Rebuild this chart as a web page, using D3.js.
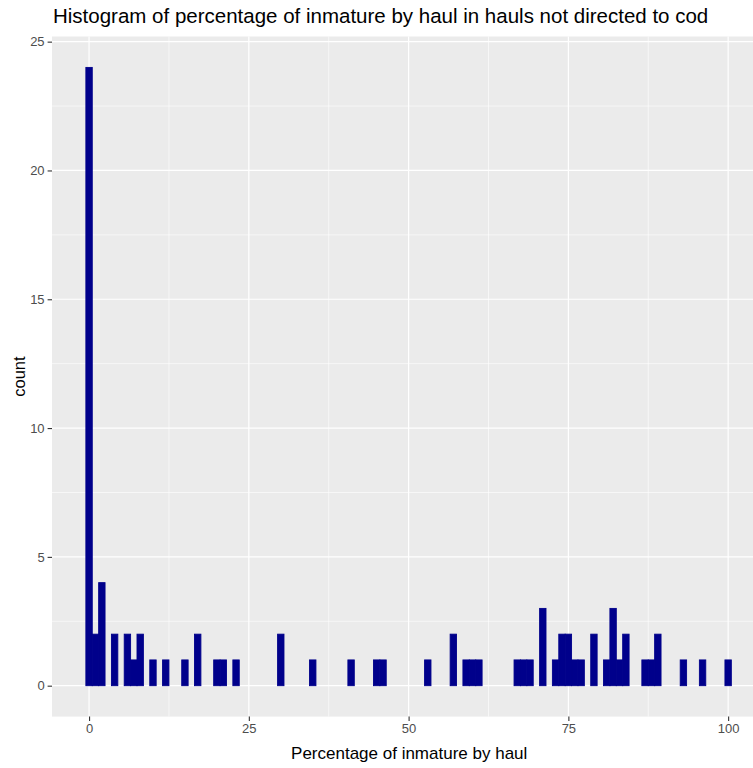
<!DOCTYPE html>
<html>
<head>
<meta charset="utf-8">
<script src="https://cdn.jsdelivr.net/npm/d3@7/dist/d3.min.js"></script>
<style>
  html, body { margin: 0; padding: 0; background: #ffffff; }
  svg { display: block; font-family: "Liberation Sans", Arial, sans-serif; }
</style>
</head>
<body>
<svg id="chart" width="753" height="768"></svg>
<script>
// Histogram bins (width 1, centred on each whole percentage) and their counts
const binCenters = [0, 1, 2, 4, 6, 7, 8, 10, 12, 15, 17, 20, 21, 23, 30, 35, 41, 45, 46, 53,
                    57, 59, 60, 61, 67, 68, 69, 71, 73, 74, 75, 76, 77, 79, 81, 82, 83, 84,
                    87, 88, 89, 93, 96, 100];
const binCounts  = [24, 2, 4, 2, 2, 1, 2, 1, 1, 1, 2, 1, 1, 1, 2, 1, 1, 1, 1, 1,
                    2, 1, 1, 1, 1, 1, 1, 3, 1, 2, 2, 1, 1, 2, 1, 3, 1, 2,
                    1, 1, 2, 1, 1, 1];
const binWidth = 1;
const xTicks = [0, 25, 50, 75, 100];
const xMinor = [12.5, 37.5, 62.5, 87.5];
const yTicks = [0, 5, 10, 15, 20, 25];
const yMinor = [2.5, 7.5, 12.5, 17.5, 22.5];

const titleText = "Histogram of percentage of inmature by haul in hauls not directed to cod";
const xTitle = "Percentage of inmature by haul";
const yTitle = "count";

const bins = binCenters.map((c, i) => ({ x0: c - binWidth / 2, x1: c + binWidth / 2, n: binCounts[i] }));

const svg = d3.select("#chart");
const panel = { left: 52, top: 36.5, right: 768.4, bottom: 716.6 };

const x = d3.scaleLinear().domain([-5.8, 106.3]).range([panel.left, panel.right]);
const y = d3.scaleLinear().domain([-1.2, 25.2]).range([panel.bottom, panel.top]);

// panel background
svg.append("rect")
  .attr("x", panel.left).attr("y", panel.top)
  .attr("width", panel.right - panel.left).attr("height", panel.bottom - panel.top)
  .attr("fill", "#EBEBEB");

const grid = svg.append("g");
// minor grid
grid.selectAll("line.xm").data(xMinor).join("line")
  .attr("x1", d => x(d)).attr("x2", d => x(d))
  .attr("y1", panel.top).attr("y2", panel.bottom)
  .attr("stroke", "#fff").attr("stroke-width", 0.6);
grid.selectAll("line.ym").data(yMinor).join("line")
  .attr("y1", d => y(d)).attr("y2", d => y(d))
  .attr("x1", panel.left).attr("x2", panel.right)
  .attr("stroke", "#fff").attr("stroke-width", 0.6);
// major grid
grid.selectAll("line.xM").data(xTicks).join("line")
  .attr("x1", d => x(d)).attr("x2", d => x(d))
  .attr("y1", panel.top).attr("y2", panel.bottom)
  .attr("stroke", "#fff").attr("stroke-width", 1.2);
grid.selectAll("line.yM").data(yTicks).join("line")
  .attr("y1", d => y(d)).attr("y2", d => y(d))
  .attr("x1", panel.left).attr("x2", panel.right)
  .attr("stroke", "#fff").attr("stroke-width", 1.2);

// bars (same-colour outline closes the seams between neighbouring bins)
svg.append("g").selectAll("rect").data(bins).join("rect")
  .attr("x", d => x(d.x0))
  .attr("width", d => x(d.x1) - x(d.x0))
  .attr("y", d => y(d.n))
  .attr("height", d => y(0) - y(d.n))
  .attr("fill", "#00008B")
  .attr("stroke", "#00008B")
  .attr("stroke-width", 0.9);

// axes
const xAxis = d3.axisBottom(x).tickValues(xTicks).tickSize(4.4).tickPadding(3).tickFormat(d3.format("d"));
const gx = svg.append("g").attr("transform", `translate(0,${panel.bottom})`).call(xAxis);
gx.select(".domain").remove();
gx.selectAll(".tick line").attr("stroke", "#333333").attr("stroke-width", 1.1);
gx.selectAll(".tick text").attr("fill", "#4D4D4D").attr("font-size", 13).attr("font-family", "Liberation Sans, Arial, sans-serif");

const yAxis = d3.axisLeft(y).tickValues(yTicks).tickSize(4.4).tickPadding(3).tickFormat(d3.format("d"));
const gy = svg.append("g").attr("transform", `translate(${panel.left},0)`).call(yAxis);
gy.select(".domain").remove();
gy.selectAll(".tick line").attr("stroke", "#333333").attr("stroke-width", 1.1);
gy.selectAll(".tick text").attr("fill", "#4D4D4D").attr("font-size", 13).attr("font-family", "Liberation Sans, Arial, sans-serif");

// titles
svg.append("text")
  .attr("x", 53).attr("y", 23)
  .attr("font-size", 20.5).attr("fill", "#000")
  .text(titleText);

svg.append("text")
  .attr("x", (panel.left + panel.right) / 2 - 1).attr("y", 759)
  .attr("text-anchor", "middle")
  .attr("font-size", 17).attr("fill", "#000")
  .text(xTitle);

svg.append("text")
  .attr("transform", `translate(25,${(panel.top + panel.bottom) / 2}) rotate(-90)`)
  .attr("text-anchor", "middle")
  .attr("font-size", 16.5).attr("fill", "#000")
  .text(yTitle);
</script>
</body>
</html>
